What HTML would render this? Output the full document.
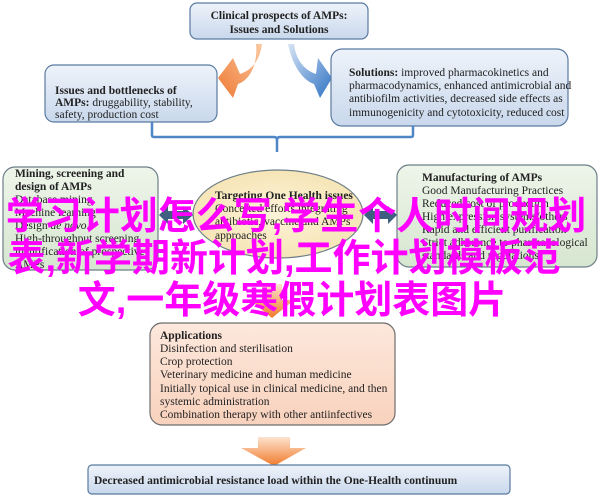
<!DOCTYPE html>
<html><head><meta charset="utf-8"><style>
html,body{margin:0;padding:0;background:#fff;}
svg{display:block;}
.t{font-family:"Liberation Serif",serif;font-size:11.5px;fill:#222;}
.b{font-weight:bold;}
.cjk{font-family:"Liberation Sans","Noto Sans CJK SC",sans-serif;font-size:38px;font-weight:bold;fill:#f0f;text-anchor:middle;}
</style></head><body>
<svg width="600" height="497" viewBox="0 0 600 497" xmlns="http://www.w3.org/2000/svg">
<defs>
<linearGradient id="bl" x1="0" y1="0" x2="0" y2="1"><stop offset="0" stop-color="#eef3fa"/><stop offset="1" stop-color="#c9d8ec"/></linearGradient>
<linearGradient id="gr" x1="0" y1="0" x2="0" y2="1"><stop offset="0" stop-color="#eef5ea"/><stop offset="1" stop-color="#d6e6d0"/></linearGradient>
<radialGradient id="el" cx="0.5" cy="0.5" r="0.6"><stop offset="0" stop-color="#fdf3d8"/><stop offset="1" stop-color="#f4e2b0"/></radialGradient>
<linearGradient id="pe" x1="0" y1="0" x2="0" y2="1"><stop offset="0" stop-color="#fde8dc"/><stop offset="1" stop-color="#f8d2bd"/></linearGradient>
<linearGradient id="or" x1="0" y1="0" x2="0" y2="1"><stop offset="0" stop-color="#fde3cf"/><stop offset="1" stop-color="#f07a2a"/></linearGradient>
<linearGradient id="oa" x1="1" y1="0" x2="0" y2="1"><stop offset="0" stop-color="#fbc9a0"/><stop offset="1" stop-color="#ee7a35"/></linearGradient>
<linearGradient id="ba" x1="0" y1="0" x2="1" y2="1"><stop offset="0" stop-color="#d6e4f4"/><stop offset="1" stop-color="#2f72c4"/></linearGradient>
</defs>

<rect x="190" y="3" width="178" height="36" rx="7" fill="url(#bl)" stroke="#5a7aa0" stroke-width="1.2"/>
<text class="t b" x="279" y="19" text-anchor="middle" font-size="12.5">Clinical prospects of AMPs:</text>
<text class="t b" x="279" y="33" text-anchor="middle" font-size="12.5">Issues and Solutions</text>

<!-- curved arrows -->
<path d="M256,44 L262,44 C260,60 252,70 240,74 L233,58 L218,78 L233,98 L238,84 C250,80 258,64 256,44 Z" fill="url(#oa)"/>
<path d="M288,44 L294,44 C296,60 304,70 316,74 L318,58 L332,78 L320,98 L314,84 C302,80 292,64 288,44 Z" fill="url(#ba)"/>

<rect x="45" y="65" width="172" height="57" rx="9" fill="url(#bl)" stroke="#5a7aa0" stroke-width="1.2"/>
<text class="t b" x="55" y="94">Issues and bottlenecks of</text>
<text class="t" x="55" y="106"><tspan class="b">AMPs:</tspan> druggability, stability,</text>
<text class="t" x="55" y="118">safety, production cost</text>

<rect x="331" y="49" width="237" height="77" rx="11" fill="url(#bl)" stroke="#5a7aa0" stroke-width="1.2"/>
<text class="t" x="349" y="76"><tspan class="b">Solutions:</tspan> improved pharmacokinetics and</text>
<text class="t" x="349" y="89">pharmacodynamics, enhanced antimicrobial and</text>
<text class="t" x="349" y="102">antibiofilm activities, decreased side effects as</text>
<text class="t" x="349" y="116">immunogenicity and cytotoxicity, reduced cost</text>

<path d="M152,122 L152,135 Q152,137 154,137 L274,137 Q277,137 277,140 L277,152 M277,140 Q277,137 280,137 L411,137 Q413,137 413,135 L413,126" fill="none" stroke="#4f86c6" stroke-width="2.5"/>

<rect x="3" y="167" width="155" height="103" rx="12" fill="url(#gr)" stroke="#6d7f88" stroke-width="1.2"/>
<text class="t b" x="15" y="177">Mining, screening and</text>
<text class="t b" x="15" y="190">design of AMPs</text>
<text class="t" x="15" y="203">Database mining</text>
<text class="t" x="15" y="216">Machine learning</text>
<text class="t" x="15" y="229">Design <tspan font-style="italic">de novo</tspan></text>
<text class="t" x="15" y="242">High-throughput screening</text>
<text class="t" x="15" y="255">identification of prospective</text>
<text class="t" x="15" y="268">AMPs</text>

<rect x="397" y="165" width="200" height="102" rx="12" fill="url(#gr)" stroke="#6d7f88" stroke-width="1.2"/>
<text class="t b" x="422" y="181">Manufacturing of AMPs</text>
<text class="t" x="422" y="194">Good Manufacturing Practices</text>
<text class="t" x="422" y="207">Reduced cost of production</text>
<text class="t" x="422" y="220">High expression systems/others</text>
<text class="t" x="422" y="233">Rapid and efficient purification</text>
<text class="t" x="422" y="246">Strict adherence to pharmacological</text>
<text class="t" x="422" y="259">standards and regulations</text>

<ellipse cx="278" cy="214" rx="85" ry="44" fill="url(#el)" stroke="#6d7f88" stroke-width="1.2"/>
<text class="t b" x="215" y="199">Targeting One Health issues</text>
<text class="t" x="215" y="212">Concerted efforts integrating</text>
<text class="t" x="215" y="225">antibiotic, vaccine and AMPs</text>
<text class="t" x="215" y="239">approaches</text>

<path d="M159,215 L168,206 L168,211 L183,211 L183,206 L193,215 L183,224 L183,219 L168,219 L168,224 Z" fill="#3f5f80"/>
<path d="M364,215 L373,206 L373,211 L388,211 L388,206 L397,215 L388,224 L388,219 L373,219 L373,224 Z" fill="#3f5f80"/>

<path d="M262,284 L282,284 L282,300 L294,300 L272,318 L250,300 L262,300 Z" fill="url(#or)"/>

<rect x="150" y="323" width="245" height="102" rx="12" fill="url(#pe)" stroke="#6d6d6d" stroke-width="1.2"/>
<text class="t b" x="160" y="339">Applications</text>
<text class="t" x="160" y="352">Disinfection and sterilisation</text>
<text class="t" x="160" y="365">Crop protection</text>
<text class="t" x="160" y="378">Veterinary medicine and human medicine</text>
<text class="t" x="160" y="392">Initially topical use in clinical medicine, and then</text>
<text class="t" x="160" y="405">systemic administration</text>
<text class="t" x="160" y="418">Combination therapy with other antiinfectives</text>

<path d="M258,437 L290,437 L290,448 L306,448 L274,466 L241,448 L258,448 Z" fill="url(#or)"/>

<rect x="88" y="465" width="422" height="29" rx="4" fill="url(#bl)" stroke="#5a7aa0" stroke-width="1.2"/>
<text class="t b" x="94" y="484" font-size="12.5">Decreased antimicrobial resistance load within the One-Health continuum</text>

<text class="cjk" x="296" y="229">学习计划怎么写,学生个人时间规划</text>
<text class="cjk" x="284" y="271">表,新学期新计划,工作计划模板范</text>
<text class="cjk" x="292" y="313">文,一年级寒假计划表图片</text>
</svg>
</body></html>
